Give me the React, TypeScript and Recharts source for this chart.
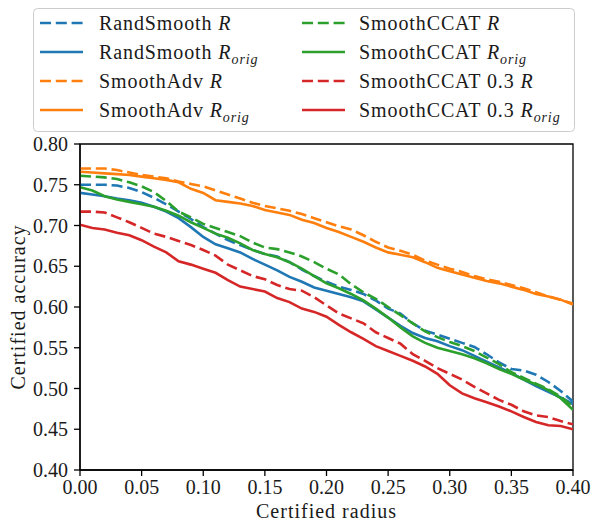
import React from 'react';
import { LineChart, Line, XAxis, YAxis, ReferenceArea } from 'recharts';

const radii = [0, 0.01, 0.02, 0.03, 0.04, 0.05, 0.06, 0.07, 0.08, 0.09, 0.1, 0.11, 0.12, 0.13, 0.14, 0.15, 0.16, 0.17, 0.18, 0.19, 0.2, 0.21, 0.22, 0.23, 0.24, 0.25, 0.26, 0.27, 0.28, 0.29, 0.3, 0.31, 0.32, 0.33, 0.34, 0.35, 0.36, 0.37, 0.38, 0.39, 0.4];

const randSmoothR = [0.750, 0.750, 0.750, 0.749, 0.746, 0.741, 0.734, 0.726, 0.717, 0.708, 0.698, 0.690, 0.682, 0.676, 0.670, 0.665, 0.662, 0.655, 0.646, 0.638, 0.631, 0.625, 0.621, 0.616, 0.608, 0.598, 0.592, 0.580, 0.571, 0.566, 0.561, 0.556, 0.551, 0.542, 0.532, 0.524, 0.522, 0.517, 0.508, 0.497, 0.484];
const randSmoothOrig = [0.740, 0.738, 0.736, 0.733, 0.731, 0.728, 0.723, 0.717, 0.709, 0.698, 0.686, 0.677, 0.672, 0.667, 0.659, 0.652, 0.645, 0.637, 0.631, 0.624, 0.620, 0.616, 0.612, 0.607, 0.597, 0.587, 0.577, 0.568, 0.562, 0.558, 0.552, 0.547, 0.540, 0.533, 0.526, 0.519, 0.511, 0.503, 0.496, 0.489, 0.481];
const smoothAdvR = [0.770, 0.770, 0.770, 0.768, 0.765, 0.762, 0.760, 0.758, 0.754, 0.751, 0.748, 0.743, 0.738, 0.733, 0.728, 0.724, 0.721, 0.718, 0.714, 0.709, 0.704, 0.699, 0.695, 0.688, 0.680, 0.673, 0.669, 0.664, 0.657, 0.652, 0.647, 0.643, 0.638, 0.634, 0.631, 0.627, 0.623, 0.618, 0.613, 0.609, 0.604];
const smoothAdvOrig = [0.766, 0.765, 0.764, 0.763, 0.762, 0.760, 0.758, 0.756, 0.753, 0.745, 0.740, 0.731, 0.729, 0.727, 0.724, 0.719, 0.716, 0.713, 0.707, 0.703, 0.697, 0.692, 0.686, 0.680, 0.673, 0.667, 0.664, 0.661, 0.655, 0.648, 0.644, 0.640, 0.636, 0.632, 0.629, 0.625, 0.621, 0.616, 0.613, 0.609, 0.603];
const ccatR = [0.761, 0.760, 0.759, 0.757, 0.753, 0.748, 0.741, 0.730, 0.717, 0.710, 0.702, 0.697, 0.692, 0.687, 0.679, 0.673, 0.671, 0.667, 0.662, 0.655, 0.647, 0.640, 0.628, 0.618, 0.610, 0.600, 0.590, 0.580, 0.570, 0.563, 0.557, 0.552, 0.546, 0.538, 0.530, 0.520, 0.513, 0.506, 0.499, 0.490, 0.478];
const ccatOrig = [0.747, 0.743, 0.736, 0.732, 0.729, 0.726, 0.723, 0.718, 0.712, 0.704, 0.697, 0.690, 0.685, 0.678, 0.670, 0.665, 0.661, 0.655, 0.647, 0.638, 0.629, 0.623, 0.616, 0.608, 0.598, 0.587, 0.575, 0.564, 0.556, 0.550, 0.546, 0.542, 0.537, 0.531, 0.524, 0.518, 0.511, 0.505, 0.498, 0.488, 0.474];
const ccat03R = [0.717, 0.717, 0.716, 0.710, 0.704, 0.697, 0.690, 0.686, 0.681, 0.676, 0.670, 0.663, 0.652, 0.645, 0.638, 0.634, 0.627, 0.622, 0.620, 0.612, 0.602, 0.592, 0.586, 0.580, 0.569, 0.562, 0.555, 0.542, 0.534, 0.525, 0.518, 0.511, 0.502, 0.494, 0.486, 0.480, 0.472, 0.467, 0.465, 0.460, 0.456];
const ccat03Orig = [0.701, 0.697, 0.695, 0.691, 0.688, 0.682, 0.674, 0.667, 0.656, 0.652, 0.647, 0.642, 0.633, 0.625, 0.622, 0.619, 0.611, 0.606, 0.598, 0.594, 0.588, 0.578, 0.569, 0.561, 0.552, 0.546, 0.540, 0.534, 0.527, 0.518, 0.504, 0.494, 0.488, 0.483, 0.478, 0.472, 0.465, 0.459, 0.455, 0.454, 0.450];

const xTicks = [0, 0.05, 0.1, 0.15, 0.2, 0.25, 0.3, 0.35, 0.4];
const yTicks = [0.4, 0.45, 0.5, 0.55, 0.6, 0.65, 0.7, 0.75, 0.8];

const BLUE = '#1f77b4';
const ORANGE = '#ff7f0e';
const GREEN = '#2ca02c';
const RED = '#d62728';

type S = { key: string; name: string; sub: boolean; color: string; dashed: boolean; values: number[] };
const series: S[] = [
  { key: 'rsR', name: 'RandSmooth', sub: false, color: BLUE, dashed: true, values: randSmoothR },
  { key: 'rsO', name: 'RandSmooth', sub: true, color: BLUE, dashed: false, values: randSmoothOrig },
  { key: 'saR', name: 'SmoothAdv', sub: false, color: ORANGE, dashed: true, values: smoothAdvR },
  { key: 'saO', name: 'SmoothAdv', sub: true, color: ORANGE, dashed: false, values: smoothAdvOrig },
  { key: 'ccR', name: 'SmoothCCAT', sub: false, color: GREEN, dashed: true, values: ccatR },
  { key: 'ccO', name: 'SmoothCCAT', sub: true, color: GREEN, dashed: false, values: ccatOrig },
  { key: 'c3R', name: 'SmoothCCAT 0.3', sub: false, color: RED, dashed: true, values: ccat03R },
  { key: 'c3O', name: 'SmoothCCAT 0.3', sub: true, color: RED, dashed: false, values: ccat03Orig },
];

const data = radii.map((r, i) => {
  const row: Record<string, number> = { r };
  series.forEach((s) => { row[s.key] = s.values[i]; });
  return row;
});

const FONT = 'Liberation Serif';
const DASH = '11 4.8';
const LW = 2.6;
const TXT = '#1a1a1a';

function LegendBox() {
  const rows = [15, 44, 73, 102];
  return (
    <svg width={592} height={140} style={{ position: 'absolute', left: 0, top: 0, fontFamily: FONT }}>
      <rect x={33.5} y={8.5} width={541} height={123} rx={4} ry={4} fill="#ffffff" fillOpacity={0.8} stroke="#cccccc" strokeWidth={1} />
      {series.map((s, i) => {
        const col = Math.floor(i / 4);
        const row = i % 4;
        const cy = 8 + rows[row];
        const lx = col === 0 ? 40 : 302;
        const tx = col === 0 ? 99 : 359;
        return (
          <g key={s.key}>
            <line x1={lx} x2={lx + 43} y1={cy} y2={cy} stroke={s.color} strokeWidth={LW} strokeDasharray={s.dashed ? DASH : undefined} />
            <text x={tx} y={cy + 7} style={{ fontFamily: FONT }} fontSize={20} fill={TXT} letterSpacing={0.9}>
              {s.name + ' '}
              <tspan fontStyle="italic">R</tspan>
              {s.sub ? <tspan fontStyle="italic" fontSize={14} dy={5}>orig</tspan> : null}
            </text>
          </g>
        );
      })}
    </svg>
  );
}

export default function App() {
  return (
    <div style={{ position: 'absolute', left: 0, top: 0, width: 592, height: 522, background: '#fff', fontFamily: FONT }}>
      <LineChart width={592} height={522} data={data} margin={{ top: 144, right: 19, bottom: 0, left: 0 }} style={{ fontFamily: FONT }}>
        <XAxis
          dataKey="r"
          type="number"
          domain={[0, 0.4]}
          ticks={xTicks}
          tickFormatter={(v: number) => v.toFixed(2)}
          height={52}
          tickSize={6}
          tickMargin={4}
          axisLine={{ stroke: '#000', strokeWidth: 1.3 }}
          tickLine={{ stroke: '#000', strokeWidth: 1.3 }}
          tick={{ fill: TXT, fontSize: 20, style: { fontFamily: FONT } }}
          allowDataOverflow
          label={{
            content: (p: any) => {
              const vb = p.viewBox || { x: 80, y: 470, width: 493, height: 52 };
              return (
                <text x={vb.x + vb.width / 2} y={vb.y + 41} textAnchor="middle" dominantBaseline="central" style={{ fontFamily: FONT }} fontSize={20} letterSpacing={1} fill={TXT}>
                  Certified radius
                </text>
              );
            },
          }}
        />
        <YAxis
          type="number"
          domain={[0.4, 0.8]}
          ticks={yTicks}
          tickFormatter={(v: number) => v.toFixed(2)}
          width={80}
          tickSize={6}
          tickMargin={6}
          axisLine={{ stroke: '#000', strokeWidth: 1.3 }}
          tickLine={{ stroke: '#000', strokeWidth: 1.3 }}
          tick={{ fill: TXT, fontSize: 20, style: { fontFamily: FONT } }}
          allowDataOverflow
          label={{
            content: (p: any) => {
              const vb = p.viewBox || { x: 0, y: 144, width: 80, height: 326 };
              const cx = vb.x + 18;
              const cy = vb.y + vb.height / 2;
              return (
                <text x={cx} y={cy} transform={`rotate(-90 ${cx} ${cy})`} textAnchor="middle" dominantBaseline="central" style={{ fontFamily: FONT }} fontSize={20} letterSpacing={1} fill={TXT}>
                  Certified accuracy
                </text>
              );
            },
          }}
        />
        {series.map((s) => (
          <Line
            key={s.key}
            dataKey={s.key}
            type="linear"
            stroke={s.color}
            strokeWidth={LW}
            strokeDasharray={s.dashed ? DASH : undefined}
            dot={false}
            activeDot={false}
            isAnimationActive={false}
          />
        ))}
        <ReferenceArea x1={0} x2={0.4} y1={0.4} y2={0.8} fill="none" stroke="#000" strokeWidth={1.3} ifOverflow="visible" />
      </LineChart>
      <LegendBox />
    </div>
  );
}
